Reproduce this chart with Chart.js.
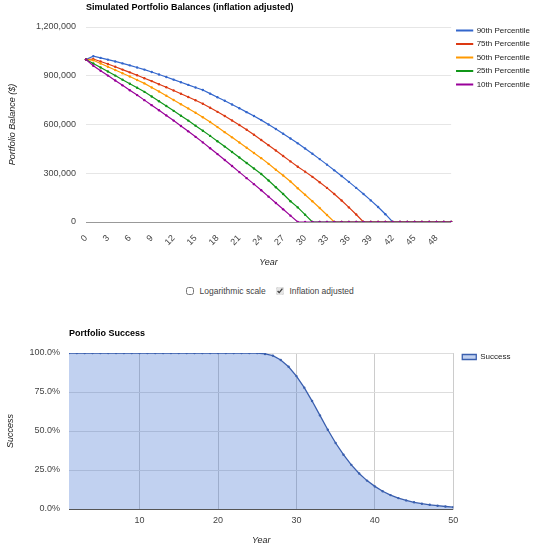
<!DOCTYPE html>
<html>
<head>
<meta charset="utf-8">
<script src="https://cdn.jsdelivr.net/npm/chart.js@4.4.1/dist/chart.umd.min.js"></script>
<style>
body { margin: 0; background: #fff; font-family: "Liberation Sans", Arial, sans-serif; }
#top { position: absolute; left: 0; top: 0; width: 540px; height: 280px; }
#bottom { position: absolute; left: 0; top: 320px; width: 540px; height: 230px; }
#opts { position: absolute; left: 0; top: 286px; width: 540px; text-align: center; font-size: 8.5px; color: #444; }
#opts label { margin: 0 4px; }
#opts input { width: 8px; height: 8px; margin: 0 3px 0 0; vertical-align: -1px; accent-color: #e4e4e4; }
</style>
</head>
<body>
<div id="top"><canvas id="balanceChart"></canvas></div>
<div id="opts">
  <label><input type="checkbox"> Logarithmic scale</label>
  <label><input type="checkbox" checked> Inflation adjusted</label>
</div>
<div id="bottom"><canvas id="successChart"></canvas></div>
<script>
// balances, in $ thousands, one value per year
const years = [0,1,2,3,4,5,6,7,8,9,10,11,12,13,14,15,16,17,18,19,20,21,22,23,24,25,
  26,27,28,29,30,31,32,33,34,35,36,37,38,39,40,41,42,43,44,45,46,47,48,49,50];
const p90 = [1000,1020,1010,999,988,976,964,951,938,923,908,892,876,860,844,828,812,790,768,746,
  723,700,676,652,627,600,572,543,514,484,452,420,387,353,318,283,247,210,172,133,92,48,0,
  0,0,0,0,0,0,0,0];
const p75 = [1000,1003,988,972,955,938,921,903,885,867,848,829,809,789,769,749,728,703,678,652,
  625,597,568,537,505,473,440,406,373,340,310,278,245,210,172,132,90,46,0,
  0,0,0,0,0,0,0,0,0,0,0,0];
const p50 = [1000,995,975,955,935,915,895,874,853,828,803,777,751,725,699,672,645,615,584,553,
  521,489,457,425,393,358,322,286,249,208,168,128,86,43,0,
  0,0,0,0,0,0,0,0,0,0,0,0,0,0,0,0];
const p25 = [1000,975,951,926,901,876,851,826,801,772,743,714,684,654,624,593,562,530,497,464,
  431,397,363,329,295,255,214,172,128,90,45,0,
  0,0,0,0,0,0,0,0,0,0,0,0,0,0,0,0,0,0,0];
const p10 = [1000,962,931,901,871,841,811,781,750,719,688,656,624,591,558,524,490,454,418,382,
  345,307,270,233,195,156,117,78,39,0,
  0,0,0,0,0,0,0,0,0,0,0,0,0,0,0,0,0,0,0,0,0];
const balanceTicks = [0, 300000, 600000, 900000, 1200000];

// share of simulations still funded, percent
const successYears = [1,2,3,4,5,6,7,8,9,10,11,12,13,14,15,16,17,18,19,20,21,22,23,24,25,
  26,27,28,29,30,31,32,33,34,35,36,37,38,39,40,41,42,43,44,45,46,47,48,49,50];
const successPct = [100,100,100,100,100,100,100,100,100,100,100,100,100,100,100,100,100,100,100,100,
  100,100,100,100,100,99.4,98.3,95.5,91.2,85.2,77.8,69.2,60,50.8,42.3,34.8,28.3,22.8,18.2,14.5,
  11.4,8.9,7.0,5.5,4.3,3.4,2.7,2.1,1.6,1.2];
const successXTicks = [10, 20, 30, 40, 50];
const successYTicks = [0, 25, 50, 75, 100];

Chart.defaults.font.family = '"Liberation Sans", Arial, sans-serif';
Chart.defaults.font.size = 9;
Chart.defaults.color = '#444';

function line(label, values, color, order) {
  return {
    label: label,
    data: values.map(v => v * 1000),
    borderColor: color,
    backgroundColor: color,
    pointBackgroundColor: color,
    borderWidth: 1.2,
    pointRadius: 1.2,
    pointBorderWidth: 0,
    tension: 0,
    order: order
  };
}

const balanceChart = new Chart(document.getElementById('balanceChart'), {
  type: 'line',
  data: {
    labels: years,
    datasets: [
      line('90th Percentile', p90, '#3366cc', 4),
      line('75th Percentile', p75, '#dc3912', 3),
      line('50th Percentile', p50, '#ff9900', 2),
      line('25th Percentile', p25, '#109618', 1),
      line('10th Percentile', p10, '#990099', 0)
    ]
  },
  options: {
    responsive: true,
    maintainAspectRatio: false,
    animation: false,
    plugins: {
      title: {
        display: true,
        text: 'Simulated Portfolio Balances (inflation adjusted)',
        align: 'start',
        fullSize: false,
        color: '#000',
        font: { size: 9, weight: 'bold' },
        padding: { top: 2, bottom: 14.2 }
      },
      legend: {
        position: 'right',
        align: 'start',
        title: { display: true, text: ' ', font: { size: 8 }, padding: { top: 11.4, bottom: 0 } },
        labels: {
          boxWidth: 16,
          boxHeight: 1,
          padding: 5.5,
          color: '#222',
          font: { size: 8 },
          sort: (a, b) => a.datasetIndex - b.datasetIndex
        }
      },
      tooltip: { enabled: false }
    },
    scales: {
      x: {
        grid: { display: false },
        border: { display: false },
        ticks: {
          autoSkip: false,
          maxRotation: 45,
          minRotation: 45,
          padding: 3,
          callback: function (v, i) { return i % 3 === 0 ? this.getLabelForValue(v) : ''; }
        },
        title: { display: true, text: 'Year', color: '#222', font: { size: 9, style: 'italic' }, padding: { bottom: 12.6 } },
        afterFit: s => { s.height = 58; }
      },
      y: {
        min: 0,
        max: 1200000,
        afterBuildTicks: s => { s.ticks = balanceTicks.map(v => ({ value: v })); },
        ticks: { padding: 10, callback: v => v.toLocaleString('en-US') },
        grid: { drawTicks: false, color: c => c.tick && c.tick.value === 0 ? '#999' : '#e6e6e6' },
        border: { display: false },
        title: { display: true, text: 'Portfolio Balance ($)', color: '#222', font: { size: 9, style: 'italic' }, padding: { top: 6.6 } },
        afterFit: s => { s.width = 86; }
      }
    }
  }
});

const successChart = new Chart(document.getElementById('successChart'), {
  type: 'line',
  data: {
    labels: successYears,
    datasets: [{
      label: 'Success',
      data: successPct,
      fill: 'origin',
      borderColor: '#3a5fae',
      backgroundColor: 'rgba(51, 102, 204, 0.3)',
      pointBackgroundColor: '#3a5fae',
      borderWidth: 1.3,
      pointRadius: 1.2,
      pointBorderWidth: 0,
      tension: 0
    }]
  },
  options: {
    responsive: true,
    maintainAspectRatio: false,
    animation: false,
    layout: { padding: { right: 19.5 } },
    plugins: {
      title: {
        display: true,
        text: 'Portfolio Success',
        align: 'start',
        fullSize: false,
        color: '#000',
        font: { size: 9, weight: 'bold' },
        padding: { top: 8.6, bottom: 13.6 }
      },
      legend: {
        position: 'right',
        align: 'start',
        title: { display: true, text: ' ', font: { size: 8 }, padding: { top: 14.4, bottom: 0 } },
        labels: { boxWidth: 14, boxHeight: 5, padding: 9, color: '#222', font: { size: 8 } }
      },
      tooltip: { enabled: false }
    },
    scales: {
      x: {
        type: 'linear',
        min: 1,
        max: 50,
        afterBuildTicks: s => { s.ticks = successXTicks.map(v => ({ value: v })); },
        ticks: { padding: 6.6 },
        grid: { drawTicks: false, color: '#ccc' },
        border: { display: false },
        title: { display: true, text: 'Year', color: '#222', font: { size: 9, style: 'italic' }, padding: { bottom: 4.6 } },
        afterFit: s => { s.height = 41; }
      },
      y: {
        min: 0,
        max: 100,
        afterBuildTicks: s => { s.ticks = successYTicks.map(v => ({ value: v })); },
        ticks: { padding: 9, callback: v => v.toFixed(1) + '%' },
        grid: { drawTicks: false, color: c => c.tick && c.tick.value === 0 ? '#555' : '#ddd' },
        border: { display: false },
        title: { display: true, text: 'Success', color: '#222', font: { size: 9, style: 'italic' }, padding: { top: 4.6 } },
        afterFit: s => { s.width = 69; }
      }
    }
  }
});
</script>
</body>
</html>
